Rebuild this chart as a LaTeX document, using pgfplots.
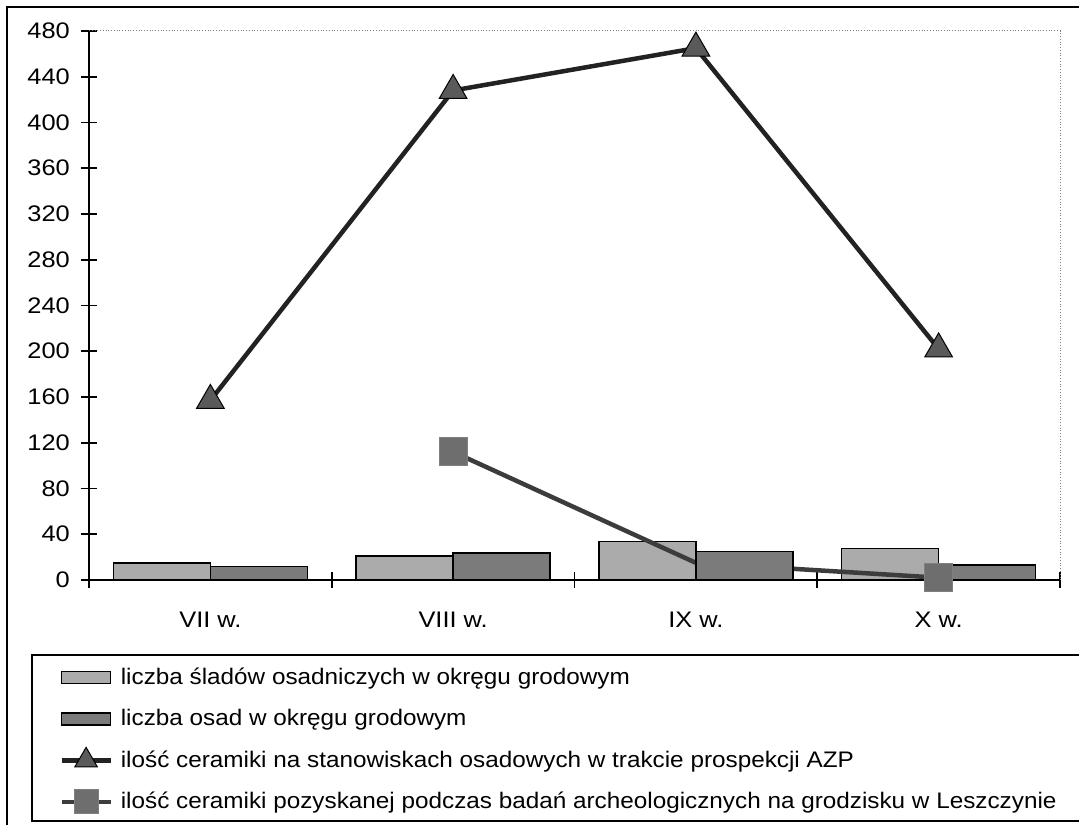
\documentclass[border=0pt]{standalone}
\usepackage{fontspec}
\setmainfont{Liberation Sans}
\newfontfamily\tickfamily[FakeStretch=1.13]{Liberation Sans}
\newfontfamily\legfamily[FakeStretch=1.08]{Liberation Sans}
\usepackage{pgfplots}
\pgfplotsset{compat=1.18}
\definecolor{lightbar}{HTML}{ABABAB}
\definecolor{darkbar}{HTML}{7B7B7B}
\definecolor{markfill}{HTML}{5A5A5A}
\definecolor{sqfill}{HTML}{6E6E6E}
\definecolor{triline}{HTML}{222222}
\definecolor{sqline}{HTML}{3C3C3C}
\newcommand{\chartfont}{\legfamily\fontsize{12.8pt}{15pt}\selectfont}
\newcommand{\tickfont}{\tickfamily\fontsize{12.8pt}{15pt}\selectfont}
\pgfplotsset{
  lineleg/.style={legend image code/.code={\path[draw=none, fill=none] (0,-3.3mm) rectangle (9.8mm,3.3mm);
    \draw[##1, mark repeat=2, mark phase=2] plot coordinates {(0,0) (4.9mm,0) (9.8mm,0)};}},
  barleg/.style={legend image code/.code={\path[draw=none, fill=none] (0,-3.3mm) rectangle (9.8mm,3.3mm);
    \draw[##1] (0,-1.2mm) rectangle (9.8mm,1.2mm);}},
}
\begin{document}
\begin{tikzpicture}[x=0.2mm,y=0.2mm]
\useasboundingbox (0,0) rectangle (1079,825);
\clip (0,0) rectangle (1079,825);
% outer frame and legend frame
\draw[line width=0.35mm] (7,-10) -- (7,818) -- (1100,818);
\draw[line width=0.35mm] (1100,170) -- (32,170) -- (32,4) -- (1100,4);
\begin{axis}[
  at={(17.8mm,49mm)}, anchor=south west,
  scale only axis, width=194.2mm, height=109.8mm,
  xmin=-0.5, xmax=3.5, ymin=0, ymax=480,
  ytick={0,40,...,480},
  xtick={0,1,2,3},
  xticklabels={VII w., VIII w., IX w., X w.},
  major x tick style={draw=none},
  minor xtick={-0.5,0.5,1.5,2.5,3.5},
  tick align=center,
  axis x line*=bottom, axis y line*=left,
  axis line style={line width=0.4mm, -},
  major tick length=3.2mm, minor tick length=3.2mm,
  every tick/.append style={black, line width=0.35mm},
  tick label style={font=\tickfont},
  /pgf/number format/assume math mode=true,
  /pgf/number format/1000 sep={},
  yticklabel style={anchor=east, xshift=-1mm},
  xticklabel style={yshift=-3.6mm},
  clip=false,
  legend cell align=left,
  legend style={draw=none, fill=none, font=\chartfont,
    at={(-0.0309,-0.1466)}, anchor=north west,
    inner sep=0pt, row sep=1.7mm, column sep=1.6mm,
    nodes={inner sep=0pt}},
]
% light bars
\addplot[ybar, bar width=0.4, bar shift=-0.2, fill=lightbar, draw=black, line width=0.3mm, forget plot]
  coordinates {(0,15) (1,21) (2,33.5) (3,27.5)};
% square series
\addplot[color=sqline, line width=0.9mm, mark=square*, mark size=2.8mm, mark indices={1,3},
  mark options={fill=sqfill, draw=gray, line width=0.2mm, solid}, forget plot]
  coordinates {(1,112) (2,15) (3,2)};
% dark bars
\addplot[ybar, bar width=0.4, bar shift=0.2, fill=darkbar, draw=black, line width=0.3mm, forget plot]
  coordinates {(0,12) (1,23.5) (2,25) (3,13)};
% triangle series
\addplot[color=triline, line width=0.9mm, mark=triangle*, mark size=3.2mm,
  mark options={fill=markfill, draw=black, line width=0.2mm, solid}, forget plot]
  coordinates {(0,157) (1,428) (2,465) (3,202)};
% top and right plot-area border
\draw[gray, densely dotted, line width=0.2mm] (rel axis cs:0,1) -- (rel axis cs:1,1) -- (rel axis cs:1,0);
% legend
\addlegendimage{barleg, fill=lightbar, draw=black, line width=0.3mm}
\addlegendentry{liczba śladów osadniczych w okręgu grodowym}
\addlegendimage{barleg, fill=darkbar, draw=black, line width=0.3mm}
\addlegendentry{liczba osad w okręgu grodowym}
\addlegendimage{lineleg, color=triline, line width=0.9mm, mark=triangle*, mark size=2.6mm,
  mark options={fill=markfill, draw=black, line width=0.2mm, solid}}
\addlegendentry{ilość ceramiki na stanowiskach osadowych w trakcie prospekcji AZP}
\addlegendimage{lineleg, color=sqline, line width=0.9mm, mark=square*, mark size=2.4mm,
  mark options={fill=sqfill, draw=gray, line width=0.2mm, solid}}
\addlegendentry{ilość ceramiki pozyskanej podczas badań archeologicznych na grodzisku w Leszczynie}
\end{axis}
\end{tikzpicture}
\end{document}
